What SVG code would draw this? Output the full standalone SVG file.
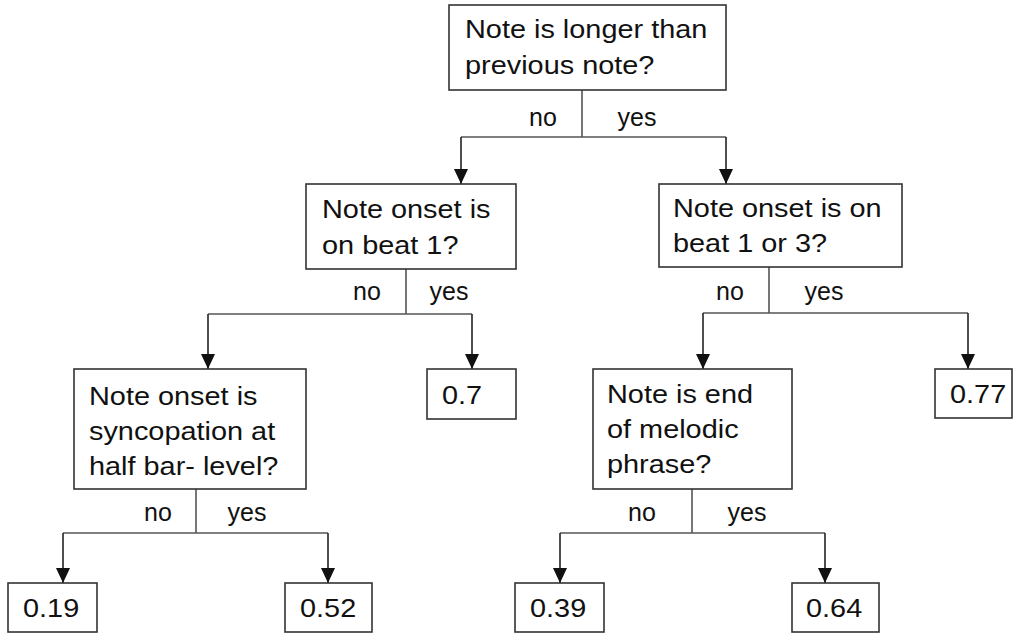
<svg xmlns="http://www.w3.org/2000/svg" width="1014" height="634" viewBox="0 0 1014 634">
<style>
.box{fill:#fff;stroke:#333;stroke-width:1.6}
.t{font-family:"Liberation Sans",Arial,sans-serif;font-size:26.5px;fill:#111}
.lbl{font-family:"Liberation Sans",Arial,sans-serif;font-size:25px;fill:#111;text-anchor:middle}
.stem{fill:none;stroke:#555;stroke-width:1.6}
.arr{fill:none;stroke:#222;stroke-width:1.6;marker-end:url(#ah)}
</style>
<defs>
<marker id="ah" markerUnits="userSpaceOnUse" markerWidth="15" markerHeight="14" refX="15" refY="7" orient="auto" viewBox="0 0 15 14">
<path d="M0,0 L15,7 L0,14 Z" fill="#111"/>
</marker>
</defs>
<rect width="1014" height="634" fill="#fff"/>
<g id="connectors">
<path class="stem" d="M582,90 V137 M461,137 H726 M406,269 V314 M208,314 H472 M769,267 V313 M703,313 H968 M196,489 V533 M63,533 H328 M692,489 V533 M560,533 H825"/>
<path class="arr" d="M461,137 V184"/>
<path class="arr" d="M726,137 V184"/>
<path class="arr" d="M208,314 V369"/>
<path class="arr" d="M472,314 V369"/>
<path class="arr" d="M703,313 V369"/>
<path class="arr" d="M968,313 V369"/>
<path class="arr" d="M63,533 V583"/>
<path class="arr" d="M328,533 V583"/>
<path class="arr" d="M560,533 V583"/>
<path class="arr" d="M825,533 V583"/>
</g>
<g id="labels">
<text class="lbl" x="543" y="126">no</text><text class="lbl" x="637" y="126">yes</text>
<text class="lbl" x="367" y="300">no</text><text class="lbl" x="449" y="300">yes</text>
<text class="lbl" x="730" y="300">no</text><text class="lbl" x="824" y="300">yes</text>
<text class="lbl" x="158" y="521">no</text><text class="lbl" x="247" y="521">yes</text>
<text class="lbl" x="642" y="521">no</text><text class="lbl" x="747" y="521">yes</text>
</g>
<g id="n-root">
<rect class="box" x="449" y="5" width="277" height="85"/>
<text class="t" transform="translate(465,0) scale(1.09,1)"><tspan x="0" y="38">Note is longer than</tspan><tspan x="0" y="74">previous note?</tspan></text>
</g>
<g id="n-beat1">
<rect class="box" x="306" y="184" width="210" height="85"/>
<text class="t" transform="translate(322,0) scale(1.09,1)"><tspan x="0" y="218">Note onset is</tspan><tspan x="0" y="254">on beat 1?</tspan></text>
</g>
<g id="n-beat13">
<rect class="box" x="659" y="184" width="243" height="83"/>
<text class="t" transform="translate(673,0) scale(1.09,1)"><tspan x="0" y="217">Note onset is on</tspan><tspan x="0" y="252">beat 1 or 3?</tspan></text>
</g>
<g id="n-sync">
<rect class="box" x="74" y="369" width="232" height="120"/>
<text class="t" transform="translate(89,0) scale(1.09,1)"><tspan x="0" y="405">Note onset is</tspan><tspan x="0" y="440">syncopation at</tspan><tspan x="0" y="475">half bar- level?</tspan></text>
</g>
<g id="n-end">
<rect class="box" x="593" y="369" width="199" height="120"/>
<text class="t" transform="translate(607,0) scale(1.09,1)"><tspan x="0" y="403">Note is end</tspan><tspan x="0" y="438">of melodic</tspan><tspan x="0" y="473">phrase?</tspan></text>
</g>
<g id="leaf-07">
<rect class="box" x="427" y="369" width="89" height="50"/>
<text class="t" transform="translate(442,0) scale(1.09,1)" y="404">0.7</text>
</g>
<g id="leaf-077">
<rect class="box" x="935" y="369" width="77" height="49"/>
<text class="t" transform="translate(950,0) scale(1.09,1)" y="403">0.77</text>
</g>
<g id="leaf-019">
<rect class="box" x="8" y="583" width="89" height="49"/>
<text class="t" transform="translate(23,0) scale(1.09,1)" y="617">0.19</text>
</g>
<g id="leaf-052">
<rect class="box" x="285" y="583" width="87" height="49"/>
<text class="t" transform="translate(300,0) scale(1.09,1)" y="617">0.52</text>
</g>
<g id="leaf-039">
<rect class="box" x="515" y="583" width="89" height="49"/>
<text class="t" transform="translate(530,0) scale(1.09,1)" y="617">0.39</text>
</g>
<g id="leaf-064">
<rect class="box" x="792" y="583" width="87" height="49"/>
<text class="t" transform="translate(806,0) scale(1.09,1)" y="617">0.64</text>
</g>
</svg>
